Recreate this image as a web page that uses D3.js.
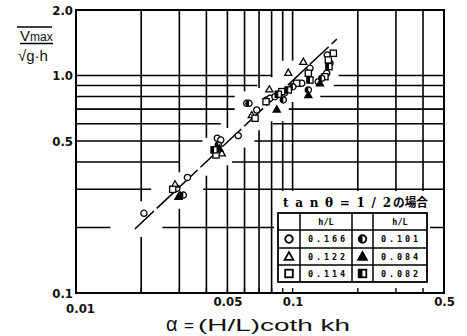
<!DOCTYPE html>
<html lang="ja">
<head>
<meta charset="UTF-8" />
<title>Vmax/√gh vs α</title>
<script src="https://d3js.org/d3.v7.min.js"></script>
<style>
  html, body { margin: 0; padding: 0; background: #fff; }
  svg { display: block; }
  .lbl { font-family: "Liberation Sans Narrow", "DejaVu Sans Condensed", "Liberation Sans", sans-serif; font-size: 13px; fill: #111; }
  .title { font-family: "Liberation Sans", Arial, sans-serif; fill: #111; }
  .leg-title { font-family: "DejaVu Serif", "Noto Sans CJK JP", serif; font-weight: bold; font-size: 12px; fill: #000; }
  .leg-jp { font-family: "Noto Sans CJK JP", sans-serif; font-weight: bold; font-size: 12px; fill: #000; }
  .leg-val { font-family: "DejaVu Sans Mono", monospace; font-weight: bold; font-size: 8.5px; fill: #000; }
</style>
</head>
<body>
<svg id="chart" width="467" height="336"></svg>
<script>
// ---- data: [alpha, Vmax/sqrt(gh)] ----
const hLOpen = ["0.166", "0.122", "0.114"];
const hLFilled = ["0.101", "0.084", "0.082"];

const circles166 = [
  [0.0206, 0.2325], [0.0327, 0.340], [0.0292, 0.303], [0.0561, 0.529],
  [0.0449, 0.5145], [0.0466, 0.505], [0.0614, 0.745], [0.0683, 0.694],
  [0.0759, 0.772], [0.0787, 0.786], [0.0829, 0.799], [0.0916, 0.829],
  [0.1102, 0.921], [0.1203, 1.079], [0.1314, 0.936], [0.1437, 1.024],
  [0.1446, 1.243], [0.1488, 1.138]
];
const triangles122 = [
  [0.02865, 0.316], [0.0302, 0.282], [0.0471, 0.439], [0.0648, 0.658],
  [0.0781, 0.864], [0.0955, 1.030], [0.1121, 1.157]
];
const squares114 = [
  [0.02795, 0.2996], [0.0443, 0.431], [0.0671, 0.636], [0.0754, 0.758],
  [0.0891, 0.843], [0.1044, 0.921], [0.1182, 1.024], [0.1411, 0.987],
  [0.1542, 1.265], [0.1462, 1.179]
];
const circles101 = [
  [0.0313, 0.282], [0.0454, 0.479], [0.0629, 0.745], [0.0906, 0.772],
  [0.1003, 0.888], [0.1182, 0.858], [0.1363, 0.971]
];
const triangles084 = [
  [0.0297, 0.277], [0.0459, 0.462], [0.0845, 0.699], [0.1182, 0.813],
  [0.1338, 0.921]
];
const squares082 = [
  [0.0434, 0.455], [0.0859, 0.820], [0.1203, 0.953], [0.0955, 0.858],
  [0.1472, 1.098]
];

const fitLine = [[0.0187, 0.197], [0.160, 1.47]];

const xTickValues = [0.01, 0.05, 0.1, 0.5];
const xTickLabels = ["0.01", "0.05", "0.1", "0.5"];
const yTickValues = [0.1, 0.5, 1, 2];
const yTickLabels = ["0.1", "0.5", "1.0", "2.0"];
const xGridValues = [0.02, 0.03, 0.04, 0.05, 0.06, 0.07, 0.08, 0.09, 0.1, 0.2, 0.3, 0.4];
const yGridValues = [0.2, 0.3, 0.4, 0.5, 0.6, 0.7, 0.8, 0.9, 1.0];

// ---- layout ----
const svg = d3.select("#chart");
const x = d3.scaleLog().domain([0.01, 0.5]).range([76, 444]);
const y = d3.scaleLog().domain([0.1, 2]).range([293, 10]);

const series = [circles166, triangles122, squares114, circles101, triangles084, squares082];
const shapes = ["circle", "triangle", "square", "circle", "triangle", "square"];
const fills = ["open", "open", "open", "half", "full", "half"];

const allPx = series.flatMap(pts => pts.map(([a, v]) => [x(a), y(v)]));
const [fa, fb] = fitLine.map(([a, v]) => [x(a), y(v)]);

function segments(lo, hi, gaps) {
  gaps.sort((p, q) => p[0] - q[0]);
  const segs = [];
  let cur = lo;
  for (const [g0, g1] of gaps) {
    if (g1 <= cur) continue;
    if (g0 > cur) segs.push([cur, Math.min(g0, hi)]);
    cur = Math.max(cur, g1);
    if (cur >= hi) break;
  }
  if (cur < hi) segs.push([cur, hi]);
  return segs.filter(s => s[1] - s[0] > 1);
}

// grid, broken where the fitted line and the points pass
const grid = svg.append("g").attr("stroke", "#000").attr("stroke-width", 1.6);
yGridValues.forEach(v => {
  const py = y(v);
  const t = (py - fa[1]) / (fb[1] - fa[1]);
  const gaps = [];
  if (t > -0.05 && t < 1.05) {
    const cx = fa[0] + t * (fb[0] - fa[0]);
    gaps.push([cx - 26, cx + 26]);
  }
  allPx.forEach(p => { if (Math.abs(p[1] - py) < 8) gaps.push([p[0] - 12, p[0] + 12]); });
  segments(x.range()[0], x.range()[1], gaps).forEach(s => {
    grid.append("line").attr("x1", s[0]).attr("x2", s[1]).attr("y1", py).attr("y2", py);
  });
});
xGridValues.forEach(a => {
  const px = x(a);
  const t = (px - fa[0]) / (fb[0] - fa[0]);
  const gaps = [];
  if (t > -0.05 && t < 1.05) {
    const cy = fa[1] + t * (fb[1] - fa[1]);
    gaps.push([cy - 14, cy + 14]);
  }
  allPx.forEach(p => { if (Math.abs(p[0] - px) < 8) gaps.push([p[1] - 12, p[1] + 12]); });
  segments(y.range()[1], y.range()[0], gaps).forEach(s => {
    grid.append("line").attr("x1", px).attr("x2", px).attr("y1", s[0]).attr("y2", s[1]);
  });
});

// legend background
svg.append("rect").attr("x", 274).attr("y", 191).attr("width", 156).attr("height", 101).attr("fill", "#fff");

// bottom tick stubs
svg.append("g").selectAll("line").data(xGridValues).join("line")
  .attr("x1", d => x(d)).attr("x2", d => x(d))
  .attr("y1", 293).attr("y2", 288)
  .attr("stroke", "#000").attr("stroke-width", 1.4);

// frame
svg.append("rect").attr("x", 76).attr("y", 10).attr("width", 368).attr("height", 283)
  .attr("fill", "none").attr("stroke", "#000").attr("stroke-width", 2);

// fitted line
svg.append("path")
  .datum(fitLine)
  .attr("d", d3.line().x(d => x(d[0])).y(d => y(d[1])))
  .attr("fill", "none").attr("stroke", "#000").attr("stroke-width", 1.5)
  .attr("stroke-dasharray", "26,4");

function drawMarker(g, shape, fill, s, sw) {
  if (shape === "circle") {
    g.append("circle").attr("r", s).attr("fill", fill === "full" ? "#000" : "#fff")
      .attr("stroke", "#000").attr("stroke-width", sw);
    if (fill === "half") g.append("path").attr("d", `M0,${-s}A${s},${s} 0 0 0 0,${s}Z`).attr("fill", "#000");
  } else if (shape === "triangle") {
    const h = s * 1.15;
    g.append("path").attr("d", `M0,${-h}L${h},${h * 0.75}L${-h},${h * 0.75}Z`)
      .attr("fill", fill === "full" ? "#000" : "#fff")
      .attr("stroke", "#000").attr("stroke-width", sw).attr("stroke-linejoin", "miter");
  } else {
    g.append("rect").attr("x", -s).attr("y", -s).attr("width", 2 * s).attr("height", 2 * s)
      .attr("fill", fill === "full" ? "#000" : "#fff")
      .attr("stroke", "#000").attr("stroke-width", sw);
    if (fill === "half") g.append("rect").attr("x", -s).attr("y", -s).attr("width", s).attr("height", 2 * s).attr("fill", "#000");
  }
}

// points
series.forEach((pts, i) => {
  pts.forEach(([a, v]) => {
    const g = svg.append("g").attr("transform", `translate(${x(a)},${y(v)})`);
    drawMarker(g, shapes[i], fills[i], 3.1, 1.3);
  });
});

// axes labels
const yAxis = svg.append("g").attr("transform", "translate(76,0)")
  .call(d3.axisLeft(y).tickValues(yTickValues).tickFormat((d, i) => yTickLabels[i]).tickSize(0).tickPadding(3));
yAxis.select(".domain").remove();
yAxis.attr("font-size", null).attr("font-family", null);
yAxis.selectAll("text").attr("class", "lbl").attr("font-weight", "bold");

const xAxis = svg.append("g").attr("transform", "translate(0,293)")
  .call(d3.axisBottom(x).tickValues(xTickValues).tickFormat((d, i) => xTickLabels[i]).tickSize(0).tickPadding(1));
xAxis.select(".domain").remove();
xAxis.attr("font-size", null).attr("font-family", null);
xAxis.selectAll("text").attr("class", "lbl").attr("font-weight", "bold")
  .attr("dy", (d, i) => i === 0 ? "1.45em" : "0.95em")
  .attr("dx", (d, i) => i === 0 ? "4" : "0");

// axis titles
const xt = svg.append("text").attr("class", "title").attr("y", 331).attr("font-size", 17);
xt.append("tspan").attr("x", 166).attr("font-size", 20).text("α");
xt.append("tspan").attr("x", 184).text("=");
xt.append("tspan").attr("x", 198).attr("textLength", 152).attr("lengthAdjust", "spacingAndGlyphs").text("(H/L)coth kh");

svg.append("line").attr("x1", 17).attr("x2", 52).attr("y1", 27).attr("y2", 27).attr("stroke", "#000").attr("stroke-width", 1.3);
const vt = svg.append("text").attr("class", "title").attr("x", 20).attr("y", 41).attr("font-size", 15);
vt.append("tspan").text("V");
vt.append("tspan").attr("font-size", 12).text("max");
svg.append("line").attr("x1", 20).attr("x2", 53).attr("y1", 43.5).attr("y2", 43.5).attr("stroke", "#000").attr("stroke-width", 1.5);
svg.append("text").attr("class", "title").attr("x", 18).attr("y", 61).attr("font-size", 15).text("√g·h");

// legend
const leg = svg.append("g");
leg.append("text").attr("class", "leg-title").attr("x", 283).attr("y", 206.5)
  .attr("textLength", 108).attr("lengthAdjust", "spacing")
  .text("tanθ=1/2");
leg.append("text").attr("class", "leg-jp").attr("x", 393).attr("y", 206.5)
  .attr("textLength", 35).attr("lengthAdjust", "spacingAndGlyphs")
  .text("の場合");

const colX = [278, 300, 352, 373, 427];
const rowY = [213, 230, 248, 265, 282];
leg.append("rect").attr("x", colX[0]).attr("y", rowY[0]).attr("width", colX[4] - colX[0]).attr("height", rowY[4] - rowY[0])
  .attr("fill", "#fff").attr("stroke", "#000").attr("stroke-width", 1.8);
colX.slice(1, 4).forEach(cx => leg.append("line").attr("x1", cx).attr("x2", cx).attr("y1", rowY[0]).attr("y2", rowY[4])
  .attr("stroke", "#000").attr("stroke-width", 1.5));
rowY.slice(1, 4).forEach(ry => leg.append("line").attr("x1", colX[0]).attr("x2", colX[4]).attr("y1", ry).attr("y2", ry)
  .attr("stroke", "#000").attr("stroke-width", 1.5));

[1, 3].forEach(c => {
  leg.append("text").attr("class", "leg-val").attr("x", (colX[c] + colX[c + 1]) / 2).attr("y", 225)
    .attr("text-anchor", "middle").text("h/L");
});
[hLOpen, hLFilled].forEach((vals, k) => {
  vals.forEach((val, r) => {
    const cy = (rowY[r + 1] + rowY[r + 2]) / 2;
    const g = leg.append("g").attr("transform", `translate(${(colX[2 * k] + colX[2 * k + 1]) / 2},${cy})`);
    drawMarker(g, shapes[3 * k + r], fills[3 * k + r], 3.8, 1.8);
    leg.append("text").attr("class", "leg-val").attr("x", colX[2 * k + 1] + 8).attr("y", cy + 3)
      .attr("textLength", 37).attr("lengthAdjust", "spacing").text(val);
  });
});
</script>
</body>
</html>
